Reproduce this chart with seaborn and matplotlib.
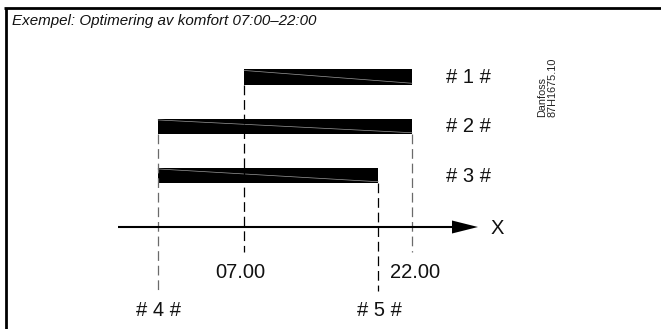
import matplotlib
matplotlib.use('Agg')
import matplotlib.pyplot as plt
import seaborn as sns

# ---- data ----
bar_labels = ["# 1 #", "# 2 #", "# 3 #"]
bar_starts = [7.0, -0.7, -0.7]      # hours
bar_ends = [22.0, 22.0, 19.0]       # hours
tick_hours = [7.0, 22.0]
tick_labels = ["07.00", "22.00"]
marker_hours = [-0.7, 19.0]
marker_labels = ["# 4 #", "# 5 #"]
title = "Exempel: Optimering av komfort 07:00–22:00"
axis_label = "X"
stamp = ["Danfoss", "87H1675.10"]

sns.set_theme(style="white")
plt.rcParams['font.family'] = ['Liberation Sans', 'DejaVu Sans']
plt.rcParams['lines.scale_dashes'] = False

W, H = 661, 329
fig = plt.figure(figsize=(W / 100, H / 100), dpi=100)
ax = fig.add_axes([0, 0, 1, 1])
ppu = (412 - 244) / 15.0           # pixels per hour
hx = lambda px: 7 + (px - 244) / ppu
ax.set_xlim(hx(0), hx(W))
ax.set_ylim(H, 0)
ax.axis('off')

# frame (left and top)
ax.plot([hx(5.5), hx(5.5)], [8, H + 5], color='black', lw=2.0, solid_capstyle='butt')
ax.plot([hx(4.5), hx(W + 5)], [8, 8], color='black', lw=2.0, solid_capstyle='butt')

ax.text(hx(12), 21, title, fontsize=10.9, style='italic', va='center', ha='left',
        family=['Liberation Sans', 'DejaVu Sans'], color='#111111')

# bars
bar_y = [77, 126.5, 175.5]
bar_h = 15.5
for y, s, e, lab in zip(bar_y, bar_starts, bar_ends, bar_labels):
    ax.barh(y, e - s, left=s, height=bar_h, color='black', edgecolor='none')
    ax.plot([s, e], [y - bar_h / 2 + 1.2, y + bar_h / 2 - 1.5], color='#9a9a9a', lw=0.5)
    ax.text(hx(468.5), y + 0.5, lab, fontsize=14.5, ha='center', va='center', color='#111111')

# dashed guide lines
dash = (0, (7, 3.5))
ax.plot([tick_hours[0]] * 2, [bar_y[0] + bar_h / 2, 252], color='black', lw=0.9, linestyle=dash)
ax.plot([tick_hours[1]] * 2, [bar_y[1] + bar_h / 2, 252], color='#6a6a6a', lw=0.9, linestyle=dash)
ax.plot([marker_hours[0]] * 2, [bar_y[1] + bar_h / 2, 291], color='#6a6a6a', lw=0.9, linestyle=dash)
ax.plot([marker_hours[1]] * 2, [bar_y[2] + bar_h / 2, 291], color='black', lw=0.9, linestyle=dash)

# axis arrow
ay = 227
ax.plot([hx(118), hx(455)], [ay, ay], color='black', lw=1.5, solid_capstyle='butt')
ax.fill([hx(452), hx(478), hx(452)], [ay - 6.5, ay, ay + 6.5], color='black', lw=0)
ax.text(hx(497), ay + 1, axis_label, fontsize=14.5, ha='center', va='center', color='#111111')

# tick labels
ax.text(hx(240), 272, tick_labels[0], fontsize=14.5, ha='center', va='center', color='#111111')
ax.text(hx(415), 272, tick_labels[1], fontsize=14.5, ha='center', va='center', color='#111111')
for h, lab in zip(marker_hours, marker_labels):
    ax.text(h + 0.1, 310, lab, fontsize=14.5, ha='center', va='center', color='#111111')

# stamp
ax.text(hx(542), 117, stamp[0], fontsize=7.8, rotation=90, ha='center', va='bottom', color='#222222')
ax.text(hx(553), 117, stamp[1], fontsize=7.8, rotation=90, ha='center', va='bottom', color='#222222')

fig.savefig('out.png', dpi=100, facecolor='white')
